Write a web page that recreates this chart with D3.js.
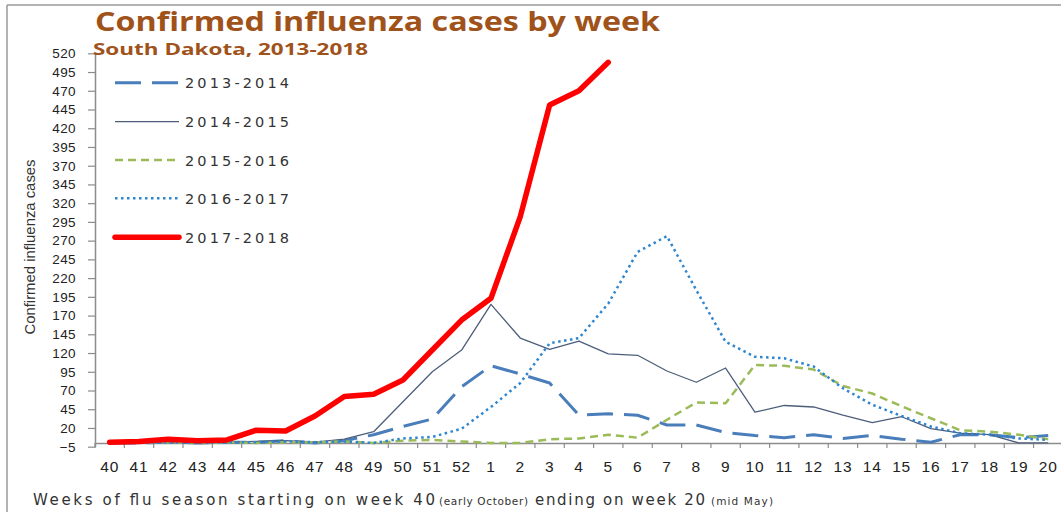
<!DOCTYPE html>
<head>
    <meta charset="utf-8">
    <script src="https://d3js.org/d3.v7.min.js"></script>
    <style>
        body { margin: 0; background: #fff; }
    </style>
</head>
<body>
    <div id="chart"></div>
    <script>
        // weeks of the flu season, week 40 to week 20
        var weeks = ["40","41","42","43","44","45","46","47","48","49","50","51","52",
                     "1","2","3","4","5","6","7","8","9","10","11","12","13","14","15","16","17","18","19","20"]
        var seasons = ["2013-2014","2014-2015","2015-2016","2016-2017","2017-2018"]
        var yTicks = [-5,20,45,70,95,120,145,170,195,220,245,270,295,320,345,370,395,420,445,470,495,520]

        // confirmed cases per week
        var s2013 = [0,0,1,0,1,1,3,0,3,11,22,32,75,103,92,80,37,39,37,24,24,14,10,7,11,6,10,5,1,11,11,7,10]
        var s2014 = [0,1,1,0,1,2,3,1,5,15,55,95,124,185,140,125,136,119,117,96,81,100,41,50,48,37,27,35,19,13,11,0,0]
        var s2015 = [0,1,1,0,1,0,1,1,2,0,3,4,2,0,0,5,6,11,7,31,54,53,104,103,98,76,66,49,33,17,15,11,5]
        var s2016 = [0,1,1,0,1,1,2,1,2,0,6,8,19,48,80,133,140,186,255,276,204,135,115,113,102,73,51,36,22,13,11,6,4]
        var s2017 = [1,2,5,3,4,17,16,36,62,65,84,124,164,193,302,451,470,508,
                     null,null,null,null,null,null,null,null,null,null,null,null,null,null,null]

        var seriesValues = [s2013, s2014, s2015, s2016, s2017]
        var styles = [
            { color: "#4A7EBB", width: 3, dash: "26,11", cap: "butt" },
            { color: "#4D5E7A", width: 1.3, dash: null, cap: "butt" },
            { color: "#9BBB59", width: 2.5, dash: "8,5", cap: "butt" },
            { color: "#2E86D0", width: 2.5, dash: "2.5,3.5", cap: "butt" },
            { color: "#FF0000", width: 5.5, dash: null, cap: "round" }
        ]

        var sans = "'Liberation Sans', Arial, sans-serif"
        var wide = "'DejaVu Sans', Verdana, sans-serif"

        var W = 1061, H = 512
        var svg = d3.select("#chart").append("svg")
            .attr("width", W)
            .attr("height", H)
            .style("font-family", sans)

        // frame of the original picture
        svg.append("line").attr("x1", 7).attr("x2", W).attr("y1", 5).attr("y2", 5)
            .attr("stroke", "#9a9a9a").attr("stroke-width", 1.5)
        svg.append("line").attr("x1", 7).attr("x2", 7).attr("y1", 5).attr("y2", H)
            .attr("stroke", "#9a9a9a").attr("stroke-width", 1.5)

        var x = d3.scaleBand().domain(weeks).range([95, 95 + 29.33 * weeks.length]).paddingInner(0).paddingOuter(0)
        var y = d3.scaleLinear().domain([-5, 520]).range([446.7, 53.3])
        var bw = x.bandwidth()

        // y axis
        var yAxis = svg.append("g")
            .attr("transform", "translate(95,0)")
            .call(d3.axisLeft(y).tickValues(yTicks).tickSize(7).tickSizeOuter(0).tickPadding(12))
        yAxis.attr("font-family", null)
        yAxis.select(".domain").attr("stroke", "#8c8c8c").attr("stroke-width", 1.5)
        yAxis.selectAll(".tick line").attr("stroke", "#8c8c8c").attr("stroke-width", 1.2)
        yAxis.selectAll(".tick text").attr("font-size", 13.5).attr("fill", "#222")
            .attr("letter-spacing", 0.4)

        // x axis crosses at 0
        var xAxis = svg.append("g")
            .attr("transform", "translate(0," + y(0) + ")")
            .call(d3.axisBottom(x).tickSize(0).tickSizeOuter(0).tickPadding(18))
        xAxis.attr("font-family", null)
        xAxis.select(".domain").attr("stroke", "#8c8c8c").attr("stroke-width", 1.5)
        xAxis.selectAll(".tick text").attr("font-size", 15.5).attr("fill", "#222")
            .attr("letter-spacing", 0.8)
        var bounds = weeks.map(function(w) { return x(w) }).concat([x(weeks[weeks.length - 1]) + bw])
        xAxis.selectAll(".bound").data(bounds).enter().append("line")
            .attr("x1", function(d) { return d }).attr("x2", function(d) { return d })
            .attr("y1", 0).attr("y2", 5)
            .attr("stroke", "#8c8c8c").attr("stroke-width", 1.2)

        // series lines
        var line = d3.line()
            .defined(function(d) { return d != null })
            .x(function(d, i) { return x(weeks[i]) + bw / 2 })
            .y(function(d) { return y(d) })

        seriesValues.forEach(function(vals, k) {
            var st = styles[k]
            svg.append("path")
                .datum(vals)
                .attr("fill", "none")
                .attr("stroke", st.color)
                .attr("stroke-width", st.width)
                .attr("stroke-dasharray", st.dash)
                .attr("stroke-linecap", st.cap)
                .attr("stroke-linejoin", "round")
                .attr("d", line)
        })

        // legend
        var legendY = [82.7, 121.7, 160, 198.3, 237.3]
        seasons.forEach(function(s, k) {
            var st = styles[k]
            svg.append("line")
                .attr("x1", 115).attr("x2", 179)
                .attr("y1", legendY[k]).attr("y2", legendY[k])
                .attr("stroke", st.color)
                .attr("stroke-width", st.width)
                .attr("stroke-dasharray", st.dash)
                .attr("stroke-linecap", st.cap)
            svg.append("text")
                .attr("x", 185).attr("y", legendY[k] + 5.5)
                .style("font-family", wide)
                .attr("font-size", 14.5).attr("fill", "#333")
                .attr("textLength", 104).attr("lengthAdjust", "spacing")
                .text(s)
        })

        // titles
        svg.append("text")
            .attr("x", 95).attr("y", 31)
            .style("font-family", "'Open Sans', sans-serif")
            .attr("font-weight", 700).attr("font-size", 27)
            .attr("fill", "#A0521B")
            .attr("textLength", 565).attr("lengthAdjust", "spacingAndGlyphs")
            .text("Confirmed influenza cases by week")
        svg.append("text")
            .attr("x", 93).attr("y", 55)
            .style("font-family", "'Open Sans', sans-serif")
            .attr("font-weight", 700).attr("font-size", 16.5)
            .attr("fill", "#A0521B")
            .attr("textLength", 275).attr("lengthAdjust", "spacingAndGlyphs")
            .text("South Dakota, 2013-2018")

        svg.append("text")
            .attr("transform", "translate(35,247) rotate(-90)")
            .attr("text-anchor", "middle")
            .attr("font-size", 15.5).attr("fill", "#333")
            .attr("textLength", 175).attr("lengthAdjust", "spacingAndGlyphs")
            .text("Confirmed influenza cases")

        // x axis title in pieces (small notes in parentheses)
        var xt = [
            { t: "Weeks of flu season starting on week 40", x: 33, w: 402, fs: 15 },
            { t: "(early October)", x: 439, w: 89, fs: 10.5 },
            { t: "ending on week 20", x: 535, w: 170, fs: 15 },
            { t: "(mid May)", x: 711, w: 62, fs: 10.5 }
        ]
        xt.forEach(function(d) {
            svg.append("text")
                .attr("x", d.x).attr("y", 505)
                .style("font-family", wide)
                .attr("font-size", d.fs).attr("fill", "#333")
                .attr("textLength", d.w).attr("lengthAdjust", "spacing")
                .text(d.t)
        })
    </script>
</body>
</html>
